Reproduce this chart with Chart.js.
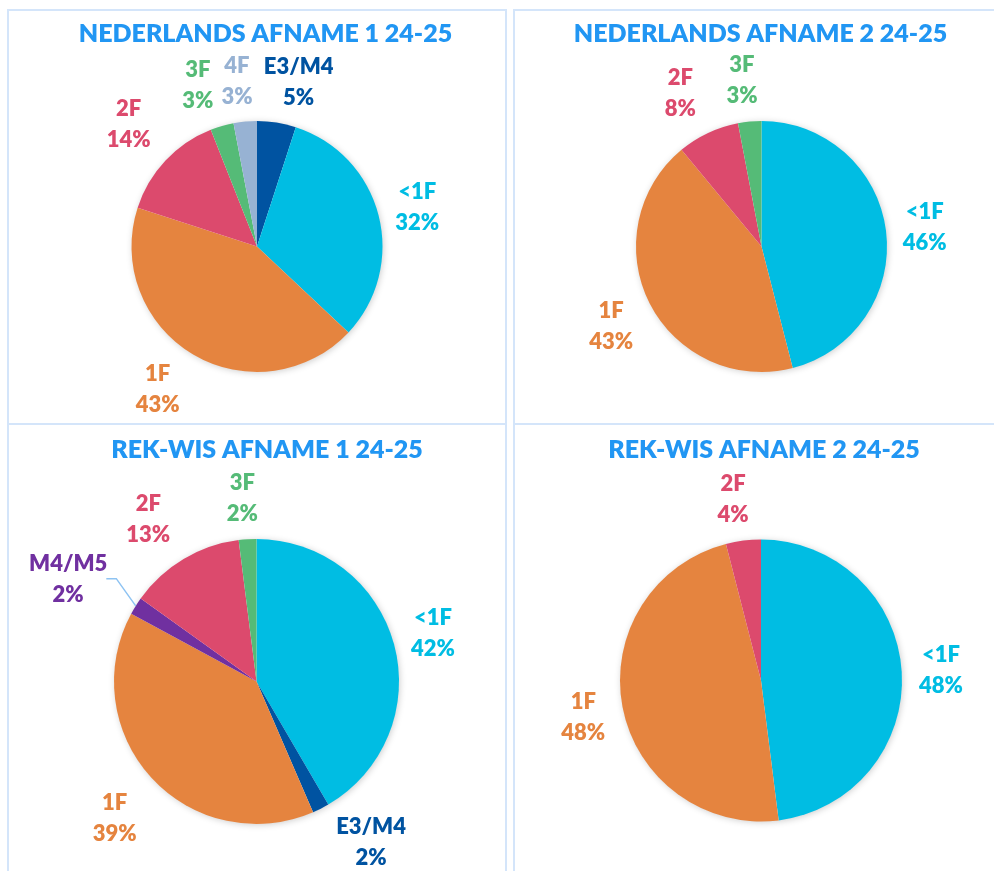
<!DOCTYPE html>
<html>
<head>
<meta charset="utf-8">
<script src="https://cdn.jsdelivr.net/npm/chart.js@4.4.1/dist/chart.umd.min.js"></script>
<style>
  html, body { margin: 0; padding: 0; background: #fff; width: 994px; height: 871px; overflow: hidden; }
  .panel { position: absolute; box-sizing: border-box; border: 2px solid #d4e5fa; }
  .cell { position: absolute; }
</style>
</head>
<body>
<div class="panel" style="left:7px;top:9px;width:500px;height:416px"></div>
<div class="panel" style="left:513px;top:9px;width:494px;height:416px"></div>
<div class="panel" style="left:7px;top:423px;width:500px;height:470px"></div>
<div class="panel" style="left:513px;top:423px;width:494px;height:470px"></div>

<div class="cell" style="left:0;top:0;width:510px;height:424px"><canvas id="ned1"></canvas></div>
<div class="cell" style="left:510px;top:0;width:484px;height:424px"><canvas id="ned2"></canvas></div>
<div class="cell" style="left:0;top:424px;width:510px;height:447px"><canvas id="rw1"></canvas></div>
<div class="cell" style="left:510px;top:424px;width:484px;height:447px"><canvas id="rw2"></canvas></div>

<script>
// data, clockwise from 12 o'clock
const ned1Labels = ['E3/M4', '<1F', '1F', '2F', '3F', '4F'];
const ned1Values = [5, 32, 43, 14, 3, 3];

const ned2Labels = ['<1F', '1F', '2F', '3F'];
const ned2Values = [46, 43, 8, 3];

const rw1Labels = ['<1F', 'E3/M4', '1F', 'M4/M5', '2F', '3F'];
const rw1Values = [41.6, 1.9, 39.4, 2.0, 13.1, 2.0];

const rw2Labels = ['<1F', '1F', '2F'];
const rw2Values = [48, 48, 4];

const levelColors = {
  '<1F': '#00BDE3',
  '1F': '#E5843F',
  '2F': '#DC4A6D',
  '3F': '#55BB77',
  '4F': '#97B2D3',
  'E3/M4': '#0053A1',
  'M4/M5': '#7030A0'
};

const FONT = 'Lato, "Open Sans", sans-serif';

// soft shadow behind the whole pie
const pieShadow = {
  id: 'pieShadow',
  beforeDatasetsDraw(chart) {
    const arc = chart.getDatasetMeta(0).data[0];
    if (!arc) return;
    const p = arc.getProps(['x', 'y', 'outerRadius'], true);
    const ctx = chart.ctx;
    ctx.save();
    ctx.shadowColor = 'rgba(0,0,0,0.22)';
    ctx.shadowBlur = 7;
    ctx.shadowOffsetX = 1;
    ctx.shadowOffsetY = 1;
    ctx.fillStyle = '#fff';
    ctx.beginPath();
    ctx.arc(p.x, p.y, p.outerRadius - 0.5, 0, Math.PI * 2);
    ctx.fill();
    ctx.restore();
  }
};

// panel title
function drawTitle(chart, text, x, y) {
  const ctx = chart.ctx;
  ctx.save();
  ctx.font = '800 25px ' + FONT;
  ctx.fillStyle = '#2196F3';
  ctx.textAlign = 'center';
  ctx.textBaseline = 'alphabetic';
  ctx.fillText(text, x, y + 9);
  ctx.restore();
}

// category + percentage labels outside the slices
const pieLabels = {
  id: 'pieLabels',
  afterDatasetsDraw(chart, args, opts) {
    const ctx = chart.ctx;
    const ds = chart.data.datasets[0];
    const meta = chart.getDatasetMeta(0);
    const total = ds.data.reduce((a, b) => a + b, 0);
    ctx.save();
    ctx.font = '800 22px ' + FONT;
    ctx.textAlign = 'center';
    ctx.textBaseline = 'alphabetic';
    meta.data.forEach((arc, i) => {
      const p = arc.getProps(['x', 'y', 'startAngle', 'endAngle', 'outerRadius'], true);
      const mid = (p.startAngle + p.endAngle) / 2;
      const nudge = opts.nudge[i] || [0, 0];
      const lx = p.x + Math.cos(mid) * (p.outerRadius + opts.gap) + nudge[0];
      const ly = p.y + Math.sin(mid) * (p.outerRadius + opts.gap) + nudge[1];
      const name = chart.data.labels[i];
      const pct = Math.round(ds.data[i] / total * 100) + '%';
      ctx.fillStyle = ds.backgroundColor[i];
      ctx.fillText(name, lx, ly - 15.5 + 8);
      ctx.fillText(pct, lx, ly + 15.5 + 8);

      if (opts.leaders.includes(i)) {
        const w = Math.max(ctx.measureText(name).width, ctx.measureText(pct).width);
        const sx = lx + w / 2 - 1;
        ctx.strokeStyle = '#8EC3F2';
        ctx.lineWidth = 1.5;
        ctx.beginPath();
        ctx.moveTo(sx, ly);
        ctx.lineTo(sx + 10, ly);
        ctx.lineTo(p.x + Math.cos(mid) * p.outerRadius, p.y + Math.sin(mid) * p.outerRadius);
        ctx.stroke();
      }
    });
    ctx.restore();
  }
};

function makePie(id, labels, values, geo, title, nudge, leaders) {
  // geo: canvas origin/size and pie centre/radius in page pixels
  const pad = {
    left: geo.cx - geo.r - geo.ox,
    top: geo.cy - geo.r - geo.oy,
    right: geo.ox + geo.w - geo.cx - geo.r,
    bottom: geo.oy + geo.h - geo.cy - geo.r
  };
  return new Chart(document.getElementById(id).getContext('2d'), {
    type: 'pie',
    data: {
      labels: labels,
      datasets: [{
        data: values,
        backgroundColor: labels.map(l => levelColors[l]),
        borderWidth: 0,
        hoverOffset: 0
      }]
    },
    options: {
      responsive: true,
      maintainAspectRatio: false,
      animation: false,
      layout: { padding: pad },
      plugins: {
        legend: { display: false },
        tooltip: { enabled: false },
        pieLabels: { gap: 45, nudge: nudge, leaders: leaders || [] }
      }
    },
    plugins: [pieShadow, pieLabels, {
      id: 'panelTitle',
      afterDraw: (chart) => drawTitle(chart, title.text, title.x - geo.ox, title.y - geo.oy)
    }]
  });
}

makePie('ned1', ned1Labels, ned1Values,
  { ox: 0, oy: 0, w: 510, h: 424, cx: 257, cy: 246.5, r: 125.5 },
  { text: 'NEDERLANDS AFNAME 1 24-25', x: 265.5, y: 33 },
  [[15, 3], [-5, 2], [-12.5, -5], [-4, -6.5], [-11.5, 2], [-4, 4]]);

makePie('ned2', ned2Labels, ned2Values,
  { ox: 510, oy: 0, w: 484, h: 424, cx: 761.5, cy: 246.5, r: 125.5 },
  { text: 'NEDERLANDS AFNAME 2 24-25', x: 760.5, y: 33 },
  [[-6, 1], [1.5, 2], [-8.6, 0], [-3.5, 3]]);

makePie('rw1', rw1Labels, rw1Values,
  { ox: 0, oy: 424, w: 510, h: 447, cx: 256.5, cy: 681.5, r: 142.5 },
  { text: 'REK-WIS AFNAME 1 24-25', x: 267, y: 449 },
  [[-4.5, 0], [30, -7.5], [-3.6, 9], [-29.4, -3.4], [-12.3, -2], [-2.3, 3]],
  [3]);

makePie('rw2', rw2Labels, rw2Values,
  { ox: 510, oy: 424, w: 484, h: 447, cx: 761, cy: 680.5, r: 141 },
  { text: 'REK-WIS AFNAME 2 24-25', x: 764, y: 449 },
  [[-5.6, 1], [5, 1], [-4.7, 3]]);
</script>
</body>
</html>
